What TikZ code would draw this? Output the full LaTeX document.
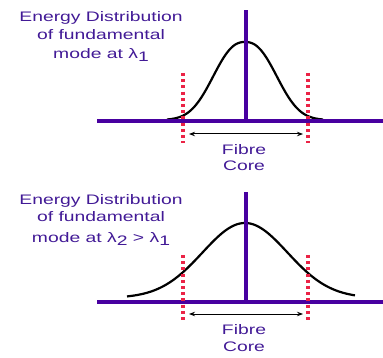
\documentclass[tikz,border=0pt]{standalone}
\usepackage{fontspec}
\setmainfont{Liberation Sans}
\newfontfamily\widefont[FakeStretch=1.4]{Liberation Sans}
\usetikzlibrary{arrows.meta}
\definecolor{axispurple}{RGB}{72,0,160}
\definecolor{txtpurple}{RGB}{66,26,150}
\definecolor{coreRed}{RGB}{235,35,70}
\tikzset{
  axisline/.style={axispurple, line width=3.2pt},
  modecurve/.style={black, line width=2.2pt, line join=round},
  coreline/.style={coreRed, line width=3.6pt, dash pattern=on 3pt off 3.2pt},
  corearrow/.style={black, line width=1pt, {Stealth[length=6pt,width=4.5pt]}-{Stealth[length=6pt,width=4.5pt]}},
  lbl/.style={txtpurple, font=\widefont\fontsize{13.8}{16}\selectfont, inner sep=0pt, anchor=base}
}
\begin{document}
\begin{tikzpicture}[x=1pt,y=-1pt]
\useasboundingbox (0,0) rectangle (383,358);
% ---------- top panel ----------
\draw[modecurve] plot[domain=-78:78, samples=100] ({245+\x},{120-78*exp(-pow(abs(\x)/39.9,2.4))});
\coordinate (a1l) at (97,121); \coordinate (a1r) at (383,121);
\coordinate (v1b) at (246,121); \coordinate (v1t) at (246,10);
\draw[axisline] (a1l) -- (a1r);
\draw[axisline] (v1b) -- (v1t);
\coordinate (r1lt) at (183,73); \coordinate (r1lb) at (183,143);
\coordinate (r1rt) at (308,73); \coordinate (r1rb) at (308,143);
\draw[coreline] (r1lt) -- (r1lb);
\draw[coreline] (r1rt) -- (r1rb);
\coordinate (ar1l) at (189,134); \coordinate (ar1r) at (303,134);
\draw[corearrow] (ar1l) -- (ar1r);
\node[lbl] (f1) at (244,155) {Fibre};
\node[lbl] (c1) at (244,171) {Core};
\node[lbl] (t1a) at (101,22) {Energy Distribution};
\node[lbl] (t1b) at (101,40) {of fundamental};
\node[lbl] (t1c) at (101,59) {mode at λ\raisebox{-3pt}{1}};
% ---------- bottom panel ----------
\draw[modecurve] plot[domain=-118:110, samples=120] ({245+\x},{298-75*exp(-\x*\x/3608)});
\coordinate (a2l) at (97,302); \coordinate (a2r) at (383,302);
\coordinate (v2b) at (246,302); \coordinate (v2t) at (246,192);
\draw[axisline] (a2l) -- (a2r);
\draw[axisline] (v2b) -- (v2t);
\coordinate (r2lt) at (183,255); \coordinate (r2lb) at (183,323);
\coordinate (r2rt) at (308,255); \coordinate (r2rb) at (308,323);
\draw[coreline] (r2lt) -- (r2lb);
\draw[coreline] (r2rt) -- (r2rb);
\coordinate (ar2l) at (189,314); \coordinate (ar2r) at (303,314);
\draw[corearrow] (ar2l) -- (ar2r);
\node[lbl] (f2) at (244,334) {Fibre};
\node[lbl] (c2) at (244,351) {Core};
\node[lbl] (t2a) at (101,205) {Energy Distribution};
\node[lbl] (t2b) at (101,222) {of fundamental};
\node[lbl] (t2c) at (101,243) {mode at λ\raisebox{-3pt}{2} > λ\raisebox{-3pt}{1}};
\end{tikzpicture}
\end{document}
